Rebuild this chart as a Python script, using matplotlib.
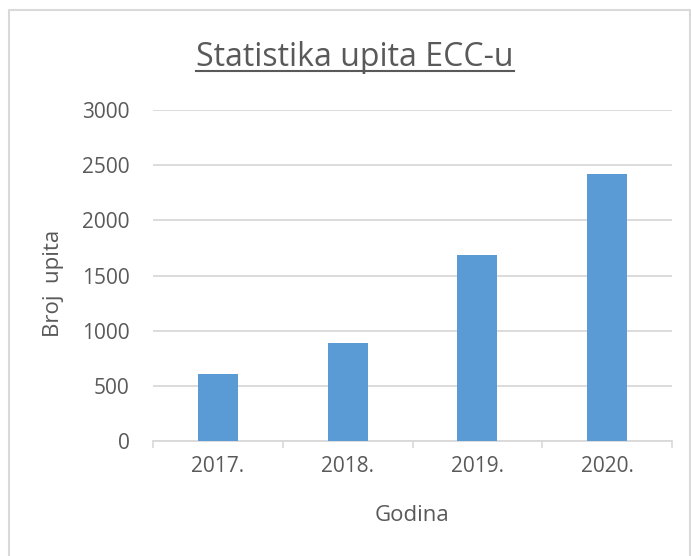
import matplotlib.pyplot as plt
from matplotlib.lines import Line2D
import numpy as np

# chart data
godine = ["2017.", "2018.", "2019.", "2020."]
broj_upita = [610, 885, 1690, 2420]
y_ticks = [0, 500, 1000, 1500, 2000, 2500, 3000]

text_col = "#595959"
grid_col = "#D9D9D9"
bar_col = "#5B9BD5"

plt.rcParams['font.family'] = ['Open Sans', 'DejaVu Sans']

fig = plt.figure(figsize=(6.91, 5.56), dpi=100)
ax = fig.add_axes([153 / 691, 115 / 556, 519 / 691, 331 / 556])

x = np.arange(len(godine))
ax.bar(x, broj_upita, width=0.31, color=bar_col, zorder=3)

ax.set_xlim(-0.5, len(godine) - 0.5)
ax.set_ylim(0, 3000)
ax.set_yticks(y_ticks)
ax.set_yticklabels([str(v) for v in y_ticks])
ax.set_xticks(x)
ax.set_xticklabels(godine)

# category boundary ticks
ax.set_xticks(np.arange(-0.5, len(godine), 1.0), minor=True)
ax.tick_params(axis='x', which='major', length=0, pad=11, labelsize=15, labelcolor=text_col)
ax.tick_params(axis='x', which='minor', length=5, width=1.2, color=grid_col)
ax.tick_params(axis='y', length=0, pad=17, labelsize=15, labelcolor=text_col)

ax.grid(axis='y', color=grid_col, linewidth=1.3, zorder=0)
for s in ['top', 'right', 'left']:
    ax.spines[s].set_visible(False)
ax.spines['bottom'].set_color(grid_col)
ax.spines['bottom'].set_linewidth(1.3)

ax.set_xlabel("Godina", fontsize=16, color=text_col, labelpad=20)
ax.set_ylabel("Broj  upita", fontsize=16, color=text_col)
ax.yaxis.set_label_coords(-0.172, 0.475)

# underlined title
title = fig.text(355 / 691, 1 - 57 / 556, "Statistika upita ECC-u", fontsize=23,
                 color=text_col, ha='center', va='center')
fig.canvas.draw()
bb = title.get_window_extent().transformed(fig.transFigure.inverted())
fig.add_artist(Line2D([bb.x0, bb.x1], [bb.y0 + 0.004, bb.y0 + 0.004],
                      transform=fig.transFigure, color=text_col, linewidth=1.5))

# chart border
fig.add_artist(Line2D([8.5 / 691, 8.5 / 691, 690 / 691, 690 / 691],
                      [0, 1 - 10 / 556, 1 - 10 / 556, 0],
                      transform=fig.transFigure, color=grid_col, linewidth=1.5))

fig.savefig("out.png", dpi=100)
